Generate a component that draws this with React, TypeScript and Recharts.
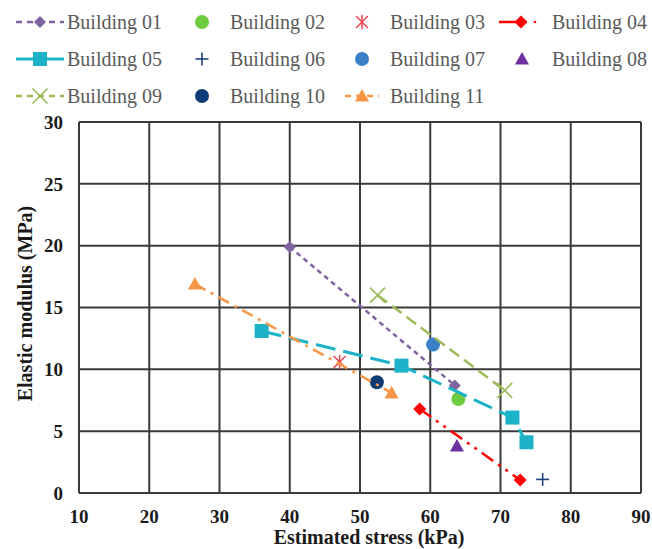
import React from "react";
import {
  ScatterChart,
  Scatter,
  XAxis,
  YAxis,
  CartesianGrid,
  Label,
} from "recharts";

// ---- data ----
const b01 = [{ x: 40.0, y: 19.9 }, { x: 63.5, y: 8.7 }];
const b02 = [{ x: 64.0, y: 7.6 }];
const b03 = [{ x: 47.1, y: 10.6 }];
const b04 = [{ x: 58.5, y: 6.8 }, { x: 72.8, y: 1.05 }];
const b05 = [
  { x: 36.0, y: 13.1 },
  { x: 55.9, y: 10.3 },
  { x: 71.7, y: 6.1 },
  { x: 73.7, y: 4.1 },
];
const b06 = [{ x: 76.0, y: 1.1 }];
const b07 = [{ x: 60.4, y: 12.0 }];
const b08 = [{ x: 63.8, y: 3.8 }];
const b09 = [{ x: 52.5, y: 16.0 }, { x: 70.6, y: 8.3 }];
const b10 = [{ x: 52.4, y: 8.95 }];
const b11 = [{ x: 26.5, y: 16.9 }, { x: 54.5, y: 8.1 }];

const xTicks = [10, 20, 30, 40, 50, 60, 70, 80, 90];
const yTicks = [0, 5, 10, 15, 20, 25, 30];

const seriesNames = [
  "Building 01",
  "Building 02",
  "Building 03",
  "Building 04",
  "Building 05",
  "Building 06",
  "Building 07",
  "Building 08",
  "Building 09",
  "Building 10",
  "Building 11",
];

// ---- marker shapes ----
type Mk = "diamond" | "circle" | "asterisk" | "square" | "plus" | "triangle" | "x";

function Marker({ kind, cx, cy, color, s }: { kind: Mk; cx: number; cy: number; color: string; s: number }) {
  const h = s / 2;
  switch (kind) {
    case "diamond":
      return <polygon points={`${cx},${cy - h} ${cx + h},${cy} ${cx},${cy + h} ${cx - h},${cy}`} fill={color} />;
    case "circle":
      return <circle cx={cx} cy={cy} r={h} fill={color} />;
    case "square":
      return <rect x={cx - h} y={cy - h} width={s} height={s} fill={color} />;
    case "triangle":
      return <polygon points={`${cx},${cy - h} ${cx + h},${cy + h * 0.8} ${cx - h},${cy + h * 0.8}`} fill={color} />;
    case "plus":
      return (
        <g stroke={color} strokeWidth={1.6}>
          <line x1={cx - h} y1={cy} x2={cx + h} y2={cy} />
          <line x1={cx} y1={cy - h} x2={cx} y2={cy + h} />
        </g>
      );
    case "x":
      return (
        <g stroke={color} strokeWidth={1.6}>
          <line x1={cx - h} y1={cy - h} x2={cx + h} y2={cy + h} />
          <line x1={cx - h} y1={cy + h} x2={cx + h} y2={cy - h} />
        </g>
      );
    case "asterisk":
      return (
        <g stroke={color} strokeWidth={1.5}>
          <line x1={cx - h * 0.85} y1={cy - h * 0.85} x2={cx + h * 0.85} y2={cy + h * 0.85} />
          <line x1={cx - h * 0.85} y1={cy + h * 0.85} x2={cx + h * 0.85} y2={cy - h * 0.85} />
          <line x1={cx} y1={cy - h} x2={cx} y2={cy + h} />
        </g>
      );
  }
  return null;
}

const shapeOf = (kind: Mk, color: string, s: number) => (props: any) =>
  <Marker kind={kind} cx={props.cx} cy={props.cy} color={color} s={s} />;

type Cfg = {
  name: string;
  data: { x: number; y: number }[];
  color: string;
  kind: Mk;
  size: number;
  dash?: string;
  width?: number;
};

const series: Cfg[] = [
  { name: seriesNames[0], data: b01, color: "#8064A2", kind: "diamond", size: 12, dash: "5 4", width: 2.5 },
  { name: seriesNames[1], data: b02, color: "#6DCC3F", kind: "circle", size: 14 },
  { name: seriesNames[2], data: b03, color: "#E8484E", kind: "asterisk", size: 14 },
  { name: seriesNames[3], data: b04, color: "#FF0000", kind: "diamond", size: 13, dash: "14 6 3 6 3 6", width: 2.5 },
  { name: seriesNames[4], data: b05, color: "#1CB3C8", kind: "square", size: 14, dash: "20 8", width: 3 },
  { name: seriesNames[5], data: b06, color: "#20407F", kind: "plus", size: 13 },
  { name: seriesNames[6], data: b07, color: "#3A80C6", kind: "circle", size: 14 },
  { name: seriesNames[7], data: b08, color: "#7030A0", kind: "triangle", size: 14 },
  { name: seriesNames[8], data: b09, color: "#9BBB59", kind: "x", size: 15, dash: "12 6", width: 2.5 },
  { name: seriesNames[9], data: b10, color: "#0E3B74", kind: "circle", size: 14 },
  { name: seriesNames[10], data: b11, color: "#F79646", kind: "triangle", size: 14, dash: "12 6 3 6", width: 2.5 },
];

// ---- legend layout ----
const legendRows = [22, 59, 96];
const legendCols = [
  { icon: 40, text: 67 },
  { icon: 202, text: 230 },
  { icon: 362, text: 390 },
  { icon: 522, text: 552 },
];

function LegendIcon({ cfg, cx, cy }: { cfg: Cfg; cx: number; cy: number }) {
  const hasLine = !!cfg.dash;
  const hw = cfg.name === "Building 11" ? 17 : 24;
  if (cfg.name === "Building 04") {
    return (
      <g>
        <line x1={cx - 22} y1={cy} x2={cx + 6} y2={cy} stroke={cfg.color} strokeWidth={cfg.width} />
        <circle cx={cx + 14} cy={cy} r={1.3} fill={cfg.color} />
        <Marker kind={cfg.kind} cx={cx} cy={cy} color={cfg.color} s={cfg.size} />
      </g>
    );
  }
  return (
    <g>
      {hasLine && (
        <line
          x1={cx - hw}
          y1={cy}
          x2={cx + hw}
          y2={cy}
          stroke={cfg.color}
          strokeWidth={cfg.width}
          strokeDasharray={cfg.name === "Building 05" ? undefined : "6 5"}
        />
      )}
      <Marker kind={cfg.kind} cx={cx} cy={cy} color={cfg.color} s={cfg.size} />
    </g>
  );
}

function CustomLegend() {
  return (
    <svg width={652} height={112} style={{ position: "absolute", left: 0, top: 0 }}>
      {series.map((cfg, i) => {
        const r = Math.floor(i / 4);
        const c = i % 4;
        const cy = legendRows[r];
        const col = legendCols[c];
        let iconX = col.icon;
        if (cfg.name === "Building 04") iconX = 521;
        if (cfg.name === "Building 11") iconX = 362;
        return (
          <g key={cfg.name}>
            <LegendIcon cfg={cfg} cx={iconX} cy={cy} />
            <text
              x={col.text}
              y={cy + 7}
              fontFamily="'Liberation Serif', 'Times New Roman', serif"
              fontSize={20}
              fill="#5a5a5a"
            >
              {cfg.name}
            </text>
          </g>
        );
      })}
    </svg>
  );
}

const tickStyle = {
  fontFamily: "'Liberation Serif', 'Times New Roman', serif",
  fontSize: 19,
  fontWeight: 700,
  fill: "#1a1a1a",
};

export default function App() {
  return (
    <div
      style={{
        position: "fixed",
        left: 0,
        top: 0,
        width: 652,
        height: 549,
        overflow: "hidden",
        background: "#fff",
      }}
    >
      <CustomLegend />
      <div style={{ position: "absolute", left: 0, top: 0 }}>
        <ScatterChart width={652} height={549} margin={{ top: 122, right: 11, bottom: 5, left: 19 }}>
          <CartesianGrid stroke="#3a3a3a" strokeWidth={2} />
          <XAxis
            type="number"
            dataKey="x"
            domain={[10, 90]}
            ticks={xTicks}
            interval={0}
            tickLine={false}
            tickSize={0}
            tickMargin={17}
            axisLine={{ stroke: "#3a3a3a", strokeWidth: 2 }}
            tick={tickStyle}
            height={51}
          >
            <Label
              value="Estimated stress (kPa)"
              position="insideBottom"
              offset={0}
              dx={9}
              style={{ ...tickStyle, fontSize: 20 }}
            />
          </XAxis>
          <YAxis
            type="number"
            dataKey="y"
            domain={[0, 30]}
            ticks={yTicks}
            interval={0}
            tickLine={false}
            tickSize={0}
            tickMargin={16}
            axisLine={{ stroke: "#3a3a3a", strokeWidth: 2 }}
            tick={tickStyle}
            width={60}
          >
            <Label
              value="Elastic modulus (MPa)"
              angle={-90}
              position="insideLeft"
              offset={6}
              dy={-4}
              style={{ ...tickStyle, fontSize: 20, textAnchor: "middle" }}
            />
          </YAxis>
          {series.map((cfg) => (
            <Scatter
              key={cfg.name}
              name={cfg.name}
              data={cfg.data}
              isAnimationActive={false}
              shape={shapeOf(cfg.kind, cfg.color, cfg.size)}
              line={
                cfg.dash
                  ? { stroke: cfg.color, strokeWidth: cfg.width, strokeDasharray: cfg.dash }
                  : false
              }
              lineType="joint"
            />
          ))}
        </ScatterChart>
      </div>
    </div>
  );
}
